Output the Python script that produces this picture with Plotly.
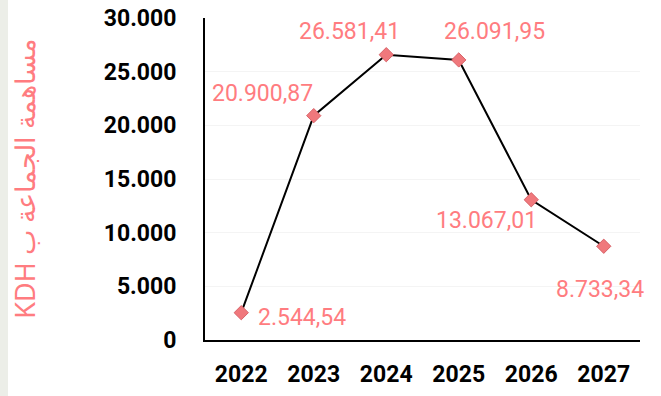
import plotly.graph_objects as go

years = ["2022", "2023", "2024", "2025", "2026", "2027"]
values = [2544.54, 20900.87, 26581.41, 26091.95, 13067.01, 8733.34]
y_title = "مساهمة الجماعة ب KDH"
y_ticks = [0, 5000, 10000, 15000, 20000, 25000, 30000]

# label offsets (pixels) - styling only
label_dx = [61, -51, -37, 36, -45, -4]
label_dy = [5, -22, -23, -28, 21, 43]

PINK = "#FF7C80"
xpos = list(range(len(years)))


def fmt(v):
    return f"{v:,.2f}".replace(",", "X").replace(".", ",").replace("X", ".")


fig = go.Figure()
fig.add_trace(go.Scatter(
    x=xpos, y=values, mode="lines+markers",
    line=dict(color="black", width=2),
    marker=dict(symbol="diamond", size=11, color="#F0787C",
                line=dict(color="#D86268", width=1)),
    hoverinfo="skip", showlegend=False,
))

for xv, yv, dx, dy in zip(xpos, values, label_dx, label_dy):
    fig.add_annotation(
        x=xv, y=yv, text=fmt(yv),
        showarrow=True, arrowcolor="rgba(0,0,0,0)", ax=dx, ay=dy,
        font=dict(family="Roboto", size=23, color=PINK),
        xanchor="center", yanchor="middle",
    )

# left decorative strip
fig.add_shape(type="rect", xref="paper", yref="paper",
              x0=-205/435, x1=-197/435, y0=-56/322, y1=(322+18)/322,
              fillcolor="#ECEEE8", line=dict(width=0), layer="below")

fig.update_layout(
    width=661, height=396,
    margin=dict(l=205, r=21, t=18, b=56),
    paper_bgcolor="white", plot_bgcolor="white",
    separators=",.",
    xaxis=dict(
        range=[-0.5, len(years) - 0.5], tickvals=xpos, ticktext=years,
        automargin=False,
        showline=True, linecolor="black", linewidth=2,
        showgrid=False, zeroline=False, ticks="", ticklabelstandoff=12,
        tickfont=dict(family="Roboto", size=23, color="black", weight="bold"),
    ),
    yaxis=dict(
        range=[0, 30000], tickvals=y_ticks, tickformat=",d",
        automargin=False,
        showline=True, linecolor="black", linewidth=2,
        showgrid=True, gridcolor="#F4F4F4", gridwidth=1, zeroline=False,
        ticks="", ticklabelstandoff=22,
        tickfont=dict(family="Roboto", size=23, color="black", weight="bold"),
        title=dict(text="\u202b" + y_title + "\u202c", standoff=60,
                   font=dict(family="Noto Sans", size=27, color=PINK)),
    ),
)

fig.write_html("out.html", config={"displayModeBar": False},
               post_script="document.body.style.margin='0';document.body.style.overflow='hidden';")
